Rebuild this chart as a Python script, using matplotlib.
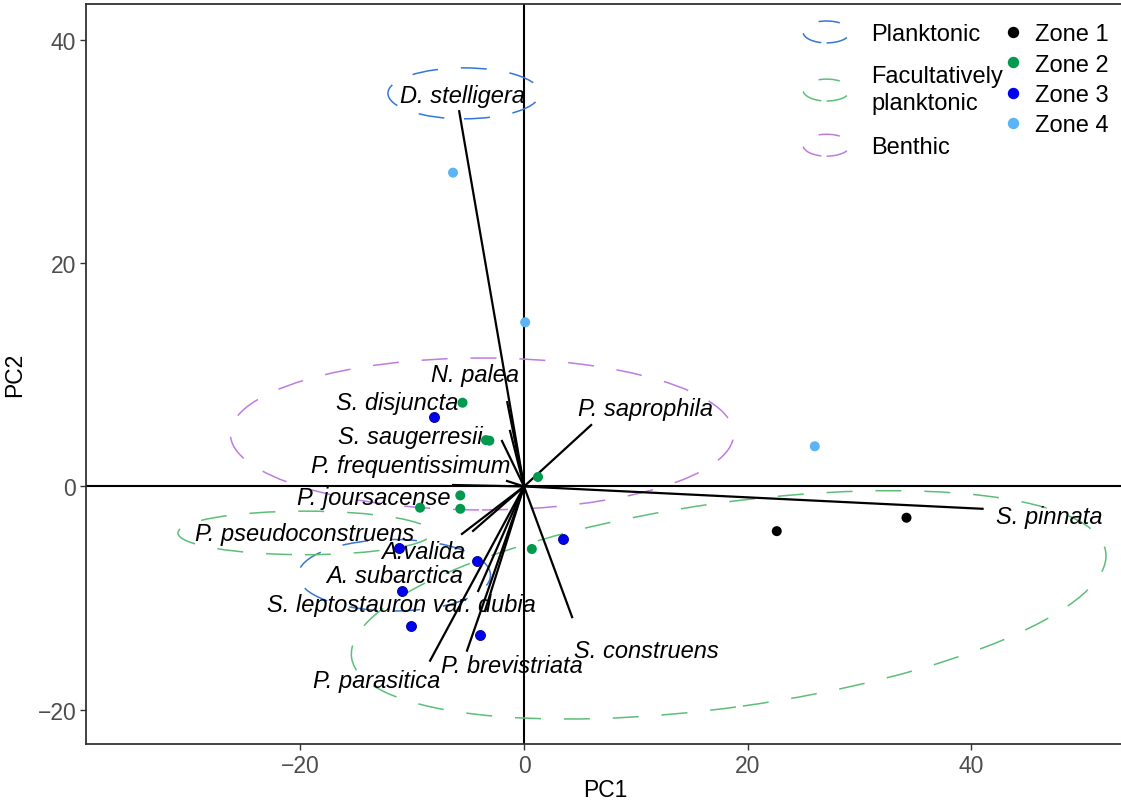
import numpy as np
import matplotlib.pyplot as plt
from matplotlib.patches import Ellipse
from matplotlib.lines import Line2D
from matplotlib.legend_handler import HandlerPatch

plt.rcParams['font.family'] = ['Liberation Sans', 'DejaVu Sans']

# species loadings (end of each line) and where the label sits
species = ['D. stelligera', 'N. palea', 'S. disjuncta', 'S. saugerresii',
           'P. frequentissimum', 'P. joursacense', 'P. saprophila', 'S. pinnata',
           'P. pseudoconstruens', 'A.valida', 'A. subarctica',
           'S. leptostauron var. dubia', 'P. parasitica', 'P. brevistriata',
           'S. construens']
load_x = [-5.8, -1.5, -1.25, -1.97, -1.52, -6.35, 6.0, 41.0, -5.55, -4.56, -4.1, -3.5, -8.4, -5.1, 4.3]
load_y = [33.6, 7.55, 4.97, 4.07, 0.49, 0.13, 5.5, -2.0, -4.25, -3.98, -9.36, -11.15, -15.6, -14.7, -11.7]
lab_x = [-5.55, -4.4, -11.35, -10.2, -10.1, -13.4, 10.9, 46.95, -19.6, -9.0, -11.55, -11.0, -13.15, -1.05, 10.9]
lab_y = [35.05, 10.0, 7.5, 4.5, 1.85, -1.0, 6.95, -2.7, -4.25, -5.8, -8.0, -10.6, -17.4, -16.05, -14.7]

# site scores per zone
zones = ['Zone 1', 'Zone 2', 'Zone 3', 'Zone 4']
zone_colors = ['black', '#00994D', '#0000F0', '#5AB4F6']
zone1_x = [22.6, 34.2]
zone1_y = [-4.0, -2.8]
zone2_x = [-5.5, -3.4, -3.1, 1.25, -5.7, -5.7, -9.3, 0.7]
zone2_y = [7.5, 4.15, 4.1, 0.85, -0.8, -2.0, -1.9, -5.6]
zone3_x = [-8.05, -11.15, -4.2, -10.9, -10.1, -3.9, 3.45]
zone3_y = [6.2, -5.5, -6.7, -9.35, -12.5, -13.3, -4.7]
zone4_x = [-6.35, 0.1, 26.0]
zone4_y = [28.1, 14.7, 3.6]

# habitat ellipses
groups = ['Planktonic', 'Facultatively\nplanktonic', 'Benthic']
group_colors = ['#3577D6', '#5CBF77', '#C07BE0']
ell_group = [0, 0, 1, 1, 2]
ell_cx = [-5.37, -11.6, -19.6, 18.3, -3.76]
ell_cy = [35.2, -7.95, -4.16, -10.6, 4.7]
ell_w = [13.6, 17.2, 22.7, 68.1, 45.0]
ell_h = [4.56, 6.4, 3.9, 18.3, 13.6]
ell_ang = [0, 0, 0, 8, 0]

dash = (0, (17, 15))
fs = 17

fig = plt.figure(figsize=(11.21, 8.03), dpi=100)
ax = fig.add_axes([86/1121, 58/803, (1125-86)/1121, 740/803])
ax.set_xlim(-39.17, 53.74)
ax.set_ylim(-23.06, 43.2)

ax.axhline(0, color='black', lw=1.5, zorder=1)
ax.axvline(0, color='black', lw=1.5, zorder=1)

for i in range(len(ell_cx)):
    e = Ellipse((ell_cx[i], ell_cy[i]), ell_w[i], ell_h[i], angle=ell_ang[i],
                fill=False, edgecolor=group_colors[ell_group[i]], lw=1.1,
                linestyle=dash, zorder=2)
    ax.add_patch(e)

for i in range(len(species)):
    ax.plot([0, load_x[i]], [0, load_y[i]], color='black', lw=1.6, zorder=3)
    ax.text(lab_x[i], lab_y[i], species[i], style='italic', fontsize=fs,
            ha='center', va='center', zorder=4)

zx = [zone1_x, zone2_x, zone3_x, zone4_x]
zy = [zone1_y, zone2_y, zone3_y, zone4_y]
for k in range(4):
    ec = '#00008B' if k == 2 else 'none'
    ax.scatter(zx[k], zy[k], s=52, color=zone_colors[k], edgecolors=ec,
               linewidths=0.6, zorder=5)

ax.set_xticks([-20, 0, 20, 40])
ax.set_yticks([-20, 0, 20, 40])
ax.tick_params(direction='out', length=4, width=1, color='#333333',
               labelcolor='#4D4D4D', labelsize=16.5, pad=3)
for s in ax.spines.values():
    s.set_color('#333333')
    s.set_linewidth(1.3)
ax.set_xlabel('PC1', fontsize=16.5, labelpad=1)
ax.set_ylabel('PC2', fontsize=16.5, labelpad=8)


def make_ell(legend, orig_handle, xdescent, ydescent, width, height, fontsize):
    return Ellipse((width/2 - xdescent, height/2 - ydescent), width, height)


ell_handles = [Ellipse((0, 0), 1, 1, fill=False, edgecolor=c, lw=1.1, linestyle=(0, (14, 14)))
               for c in group_colors]
leg1 = ax.legend(ell_handles, groups, loc='upper left',
                 bbox_to_anchor=(803/1121, 1 - 22/803), bbox_transform=fig.transFigure,
                 frameon=False, fontsize=fs, handlelength=2.0, handleheight=1.05,
                 handletextpad=0.9, labelspacing=0.85, borderpad=0, borderaxespad=0,
                 handler_map={Ellipse: HandlerPatch(patch_func=make_ell)})
for t in leg1.get_texts():
    t.set_linespacing(1.3)
ax.add_artist(leg1)

zone_handles = [Line2D([], [], marker='o', ls='none', markersize=7.2, color=c)
                for c in zone_colors]
ax.legend(zone_handles, zones, loc='upper left',
          bbox_to_anchor=(1003/1121, 1 - 24/803), bbox_transform=fig.transFigure,
          frameon=False, fontsize=fs, handlelength=0.85, handletextpad=0.5,
          labelspacing=0.36, borderpad=0, borderaxespad=0)

fig.savefig('out.png', dpi=100)
